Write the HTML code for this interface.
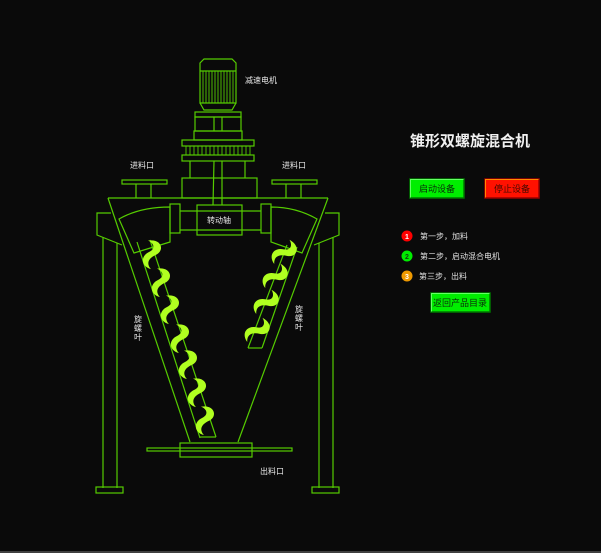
<!DOCTYPE html>
<html><head><meta charset="utf-8"><style>
html,body{margin:0;padding:0;background:#0a0a0a;width:601px;height:553px;overflow:hidden}
svg{display:block}
text{font-family:"Liberation Sans","Noto Sans CJK SC",sans-serif}
</style></head><body>
<svg width="601" height="553" viewBox="0 0 601 553">
<defs>
<path id="b" d="M 0,-13 C 14,-11 13,2 3,3 C -5,4 -9,8 -6,15 C -15,9 -12,-1 -2,-2 C 5,-3 5,-9 0,-13 Z" fill="#b0ff20"/>
</defs>
<rect x="0" y="0" width="601" height="553" fill="#0a0a0a"/>
<line x1="0" y1="552" x2="601" y2="552" stroke="#777" stroke-width="1"/>
<g fill="none" stroke="#55cc00" stroke-width="1.2">
<path d="M204,59 L232,59 L236,63 L236,103 L200,103 L200,63 Z"/>
<line x1="200" y1="71" x2="236" y2="71"/>
<g stroke-width="0.9">
<line x1="203" y1="71" x2="203" y2="103"/><line x1="206" y1="71" x2="206" y2="103"/><line x1="209" y1="71" x2="209" y2="103"/><line x1="212" y1="71" x2="212" y2="103"/><line x1="215" y1="71" x2="215" y2="103"/><line x1="218" y1="71" x2="218" y2="103"/><line x1="221" y1="71" x2="221" y2="103"/><line x1="224" y1="71" x2="224" y2="103"/><line x1="227" y1="71" x2="227" y2="103"/><line x1="230" y1="71" x2="230" y2="103"/><line x1="233" y1="71" x2="233" y2="103"/>
</g>
<path d="M200,103 L204,110 L232,110 L236,103"/>
<rect x="195" y="112" width="46" height="5"/>
<rect x="195" y="117" width="46" height="14"/>
<line x1="214" y1="117" x2="214" y2="131"/><line x1="222" y1="117" x2="222" y2="131"/>
<rect x="194" y="131" width="48" height="9"/>
<rect x="182" y="140" width="72" height="6"/>
<rect x="182" y="155" width="72" height="6"/>
<g stroke-width="0.9">
<line x1="186" y1="146" x2="186" y2="155"/><line x1="190" y1="146" x2="190" y2="155"/><line x1="194" y1="146" x2="194" y2="155"/><line x1="198" y1="146" x2="198" y2="155"/><line x1="202" y1="146" x2="202" y2="155"/><line x1="206" y1="146" x2="206" y2="155"/><line x1="210" y1="146" x2="210" y2="155"/><line x1="214" y1="146" x2="214" y2="155"/><line x1="218" y1="146" x2="218" y2="155"/><line x1="222" y1="146" x2="222" y2="155"/><line x1="226" y1="146" x2="226" y2="155"/><line x1="230" y1="146" x2="230" y2="155"/><line x1="234" y1="146" x2="234" y2="155"/><line x1="238" y1="146" x2="238" y2="155"/><line x1="242" y1="146" x2="242" y2="155"/><line x1="246" y1="146" x2="246" y2="155"/><line x1="250" y1="146" x2="250" y2="155"/>
</g>
<line x1="190" y1="161" x2="190" y2="178"/><line x1="245" y1="161" x2="245" y2="178"/>
<line x1="214" y1="161" x2="213" y2="205"/><line x1="222" y1="161" x2="222" y2="205"/>
<rect x="182" y="178" width="75" height="20"/>
<rect x="122" y="180" width="45" height="4"/>
<line x1="136" y1="184" x2="136" y2="198"/><line x1="151" y1="184" x2="151" y2="198"/>
<rect x="272" y="180" width="45" height="4"/>
<line x1="286" y1="184" x2="286" y2="198"/><line x1="301" y1="184" x2="301" y2="198"/>
<line x1="108" y1="198" x2="328" y2="198"/>
<line x1="108" y1="198" x2="190" y2="442"/>
<line x1="328" y1="198" x2="238" y2="442"/>
<path d="M111,213 L97,213 L97,235 L122,245"/>
<path d="M325,213 L339,213 L339,235 L314,245"/>
<line x1="103" y1="237" x2="103" y2="488"/><line x1="117" y1="243" x2="117" y2="488"/>
<rect x="96" y="487" width="27" height="6"/>
<line x1="319" y1="243" x2="319" y2="488"/><line x1="333" y1="237" x2="333" y2="488"/>
<rect x="312" y="487" width="27" height="6"/>
<rect x="170" y="204" width="10" height="29"/>
<rect x="261" y="204" width="10" height="29"/>
<line x1="180" y1="211" x2="261" y2="211"/><line x1="180" y1="230" x2="261" y2="230"/>
<rect x="197" y="205" width="45" height="30"/>
<path d="M119,219 Q140,207 170,207 L170,242 L134,253 Z"/>
<path d="M317,219 Q296,207 271,207 L271,242 L302,253 Z"/>
<line x1="137" y1="242" x2="200" y2="438"/>
<line x1="150" y1="240" x2="216" y2="437"/>
<line x1="200" y1="437" x2="216" y2="437"/>
<line x1="287" y1="245" x2="248" y2="348"/>
<line x1="297" y1="247" x2="262" y2="348"/>
<line x1="248" y1="348" x2="262" y2="348"/>
<rect x="147" y="448" width="145" height="3"/>
<rect x="180" y="443" width="72" height="14"/>
</g>
<g>
<use href="#b" transform="translate(152,253) rotate(-18)"/>
<use href="#b" transform="translate(161,281) rotate(-18)"/>
<use href="#b" transform="translate(170,308) rotate(-18)"/>
<use href="#b" transform="translate(180,337) rotate(-18)"/>
<use href="#b" transform="translate(188,363) rotate(-18)"/>
<use href="#b" transform="translate(197,391) rotate(-18)"/>
<use href="#b" transform="translate(205,419) rotate(-18)"/>
<use href="#b" transform="translate(285,252) rotate(20)"/>
<use href="#b" transform="translate(276,276) rotate(20)"/>
<use href="#b" transform="translate(267,302) rotate(20)"/>
<use href="#b" transform="translate(258,330) rotate(20)"/>
</g>
<g fill="#e8e8e8" font-size="8">
<text x="245" y="83">减速电机</text>
<text x="130" y="168">进料口</text>
<text x="282" y="168">进料口</text>
<text x="207" y="223" font-size="8">转动轴</text>
<text x="260" y="474">出料口</text>
<text x="134" y="322">旋</text><text x="134" y="331">螺</text><text x="134" y="340">叶</text>
<text x="295" y="312">旋</text><text x="295" y="321">螺</text><text x="295" y="330">叶</text>
</g>
<text x="410" y="146" fill="#f0f0f0" font-size="15" font-weight="bold">锥形双螺旋混合机</text>
<rect x="410" y="179" width="54" height="19" fill="#00ee00" stroke="#007700" stroke-width="1.5"/>
<path d="M410.5,197.5 L410.5,179.5 L463.5,179.5" fill="none" stroke="#66ff66" stroke-width="1"/>
<text x="437" y="192" fill="#0a2a0a" font-size="9" text-anchor="middle">启动设备</text>
<rect x="485" y="179" width="54" height="19" fill="#ff1100" stroke="#990000" stroke-width="1.5"/>
<path d="M485.5,197.5 L485.5,179.5 L538.5,179.5" fill="none" stroke="#ff8800" stroke-width="1"/>
<text x="512" y="192" fill="#440a00" font-size="9" text-anchor="middle">停止设备</text>
<circle cx="407" cy="236" r="5.5" fill="#ff0000"/><text x="407" y="239" fill="#fff" font-size="7" text-anchor="middle" font-weight="bold">1</text>
<circle cx="407" cy="256" r="5.5" fill="#00ee00"/><text x="407" y="259" fill="#114411" font-size="7" text-anchor="middle" font-weight="bold">2</text>
<circle cx="407" cy="276" r="5.5" fill="#ee9900"/><text x="407" y="279" fill="#fff" font-size="7" text-anchor="middle" font-weight="bold">3</text>
<g fill="#e0e0e0" font-size="8">
<text x="420" y="239">第一步，加料</text>
<text x="420" y="259">第二步，启动混合电机</text>
<text x="419" y="279">第三步，出料</text>
</g>
<rect x="431" y="293" width="59" height="19" fill="#00ee00" stroke="#007700" stroke-width="1.5"/>
<path d="M431.5,311.5 L431.5,293.5 L489.5,293.5" fill="none" stroke="#66ff66" stroke-width="1"/>
<text x="460" y="306" fill="#0a2a0a" font-size="9" text-anchor="middle">返回产品目录</text>
</svg>
</body></html>
